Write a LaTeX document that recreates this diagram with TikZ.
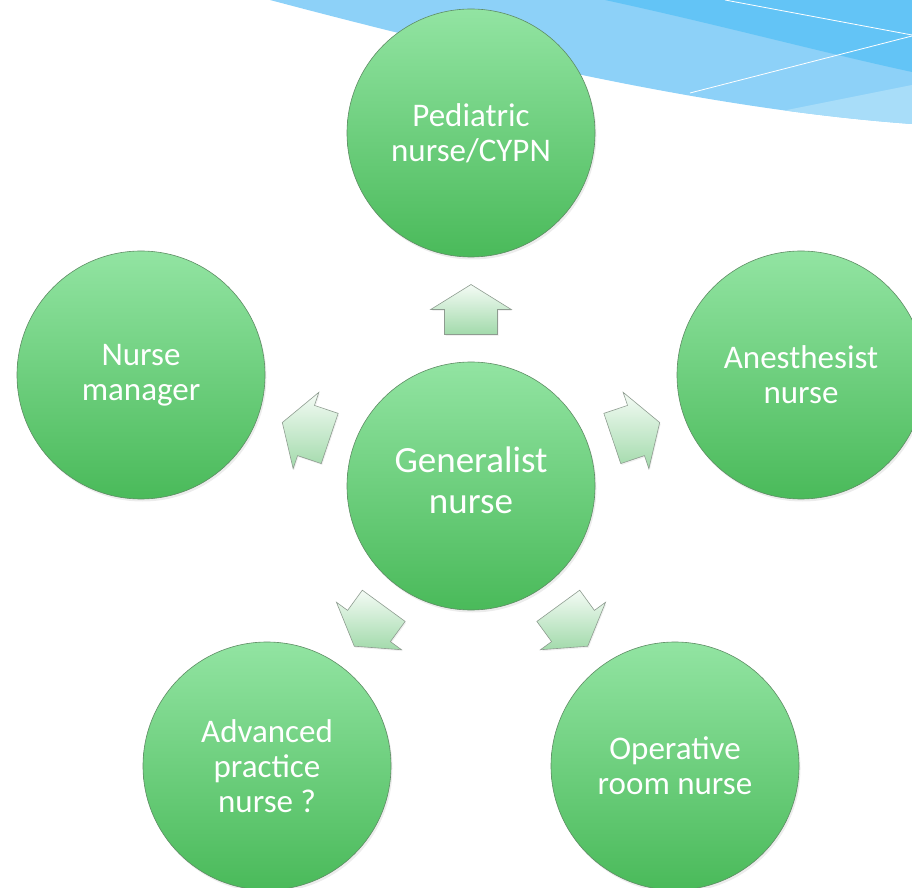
\documentclass[tikz,border=0pt]{standalone}
\usepackage{fontspec}
\setmainfont{Carlito}
\usetikzlibrary{calc,shadows}
\definecolor{cTop}{HTML}{92E4A2}
\definecolor{cBot}{HTML}{4ABA5A}
\definecolor{cEdge}{HTML}{5E8C64}
\definecolor{aTop}{HTML}{F4FBF5}
\definecolor{aBot}{HTML}{A2DAAB}
\definecolor{aEdge}{HTML}{8E9C90}
\definecolor{sky}{HTML}{8DD1F8}
\definecolor{skyDark}{HTML}{63C4F6}
\definecolor{skyLight}{HTML}{A8DDF9}
\newcommand\blockarrowto[3]{%
  \coordinate (#1-#2-m) at ($(#1)!0.5!(#2)$);
  \path[blockarrow]
    ([shift={(#1-#2-m)},rotate=#3]-25,-26.5) --
    ([shift={(#1-#2-m)},rotate=#3]0,-26.5) --
    ([shift={(#1-#2-m)},rotate=#3]0,-40.3) --
    ([shift={(#1-#2-m)},rotate=#3]25,0) --
    ([shift={(#1-#2-m)},rotate=#3]0,40.3) --
    ([shift={(#1-#2-m)},rotate=#3]0,26.5) --
    ([shift={(#1-#2-m)},rotate=#3]-25,26.5) -- cycle;}
\begin{document}
\begin{tikzpicture}[x=1pt,y=1pt,
  bubble/.style={circle, minimum size=248pt, inner sep=0pt, top color=cTop,
    bottom color=cBot, draw=cEdge, line width=0.6pt, text=white, align=center,
    font=\fontsize{33}{35}\selectfont,
    drop shadow={opacity=0.15, shadow xshift=1.5pt, shadow yshift=-2.5pt}},
  hubtext/.style={text=white, align=center, font=\fontsize{37}{41}\selectfont},
  blockarrow/.style={top color=aTop, bottom color=aBot, draw=aEdge,
    line width=0.6pt, line join=miter,
    drop shadow={opacity=0.12, shadow xshift=1pt, shadow yshift=-1.5pt}}]
\useasboundingbox (0,0) rectangle (912,887);
% decorative swoosh (top right)
\def\swoosh{(270,887) .. controls (560,810) and (750,775) .. (912,763) -- (912,887) -- cycle}
\fill[sky] \swoosh;
\begin{scope}
  \clip \swoosh;
  \fill[skyDark] (605,887) .. controls (720,862) and (820,835) .. (912,815) -- (912,887) -- cycle;
  \fill[skyLight] (760,771.6) -- (912,802) -- (912,700) -- (760,700) -- cycle;
\end{scope}
\draw[white, line width=0.8pt] (725,887) -- (912,852);
\draw[white, line width=0.8pt] (690,794) -- (912,851);
% circles
\node[bubble] (G) at (471,401) {};
\node[hubtext] (Gtext) at ([yshift=6]G.center) {Generalist\\nurse};
\node[bubble] (T) at (471,754) {Pediatric\\nurse/CYPN};
\node[bubble] (L) at (141,512) {Nurse\\manager};
\node[bubble] (R) at (801,512) {Anesthesist\\nurse};
\node[bubble] (BL) at (267,121) {\raisebox{0pt}{}Advanced\\practice\\nurse ?};
\node[bubble] (BR) at (675,121) {Operative\\room nurse};
% block arrows
\blockarrowto{G}{T}{90}
\blockarrowto{G}{R}{18.6}
\blockarrowto{G}{L}{161.4}
\blockarrowto{G}{BL}{233.9}
\blockarrowto{G}{BR}{306.1}
\end{tikzpicture}
\end{document}
